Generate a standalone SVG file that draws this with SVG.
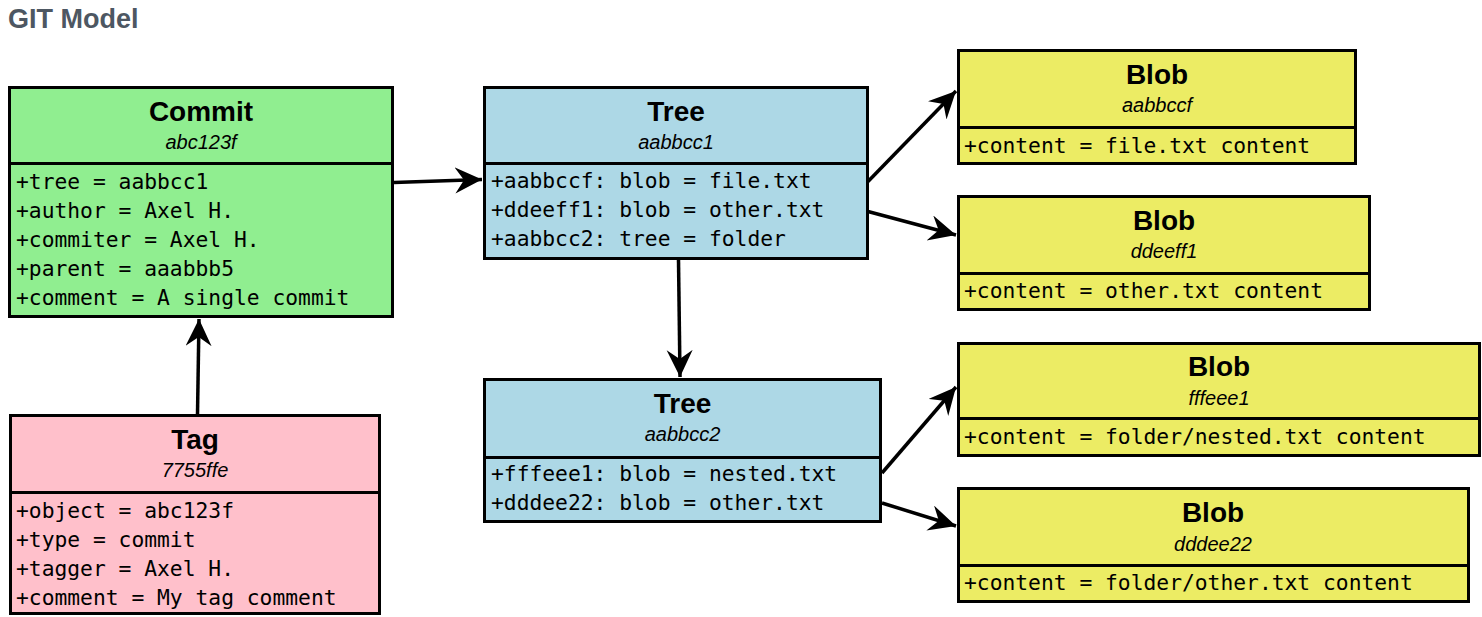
<svg xmlns="http://www.w3.org/2000/svg" width="1482" height="617" viewBox="0 0 1482 617">
<style>
.box{stroke:#000;stroke-width:3}
.sep{stroke:#000;stroke-width:3}
.t{font-family:"Liberation Sans",Arial,sans-serif;font-weight:bold;font-size:28px;text-anchor:middle;fill:#000}
.s{font-family:"Liberation Sans",Arial,sans-serif;font-style:italic;font-size:20px;text-anchor:middle;fill:#000}
.a{font-family:"DejaVu Sans Mono",monospace;font-size:21.3px;fill:#000}
.c{stroke:#000;stroke-width:3.5;fill:none;marker-end:url(#arr)}
.green{fill:#90EE90}.pink{fill:#FFC0CB}.blue{fill:#ADD8E6}.yellow{fill:#ECEC64}
</style>
<defs>
<marker id="arr" markerUnits="userSpaceOnUse" markerWidth="30" markerHeight="30" refX="27" refY="13" orient="auto">
<path d="M0,0 L27,13 L0,26 L9,13 Z" fill="#000"/>
</marker>
</defs>
<rect width="1482" height="617" fill="#fff"/>
<text x="8" y="28" font-family="Liberation Sans,Arial,sans-serif" font-weight="bold" font-size="27" fill="#4d5762">GIT Model</text>

<g id="connectors">
<line class="c" x1="394" y1="182.5" x2="482" y2="179.5"/>
<line class="c" x1="678.5" y1="260" x2="680" y2="377"/>
<line class="c" x1="868" y1="181.5" x2="956" y2="91"/>
<line class="c" x1="868" y1="211.5" x2="956" y2="235"/>
<line class="c" x1="882" y1="473" x2="956" y2="387"/>
<line class="c" x1="882" y1="503" x2="956" y2="526"/>
<line class="c" x1="197.5" y1="414" x2="199" y2="319"/>
</g>

<g id="commit">
<rect class="box green" x="9.5" y="87.5" width="383" height="229"/>
<line class="sep" x1="9.5" y1="163.5" x2="392.5" y2="163.5"/>
<text class="t" x="201" y="121">Commit</text>
<text class="s" x="201" y="149">abc123f</text>
<text class="a" x="16" y="189">+tree = aabbcc1</text>
<text class="a" x="16" y="218">+author = Axel H.</text>
<text class="a" x="16" y="247">+commiter = Axel H.</text>
<text class="a" x="16" y="276">+parent = aaabbb5</text>
<text class="a" x="16" y="305">+comment = A single commit</text>
</g>

<g id="tag">
<rect class="box pink" x="10.5" y="415.5" width="369" height="198"/>
<line class="sep" x1="10.5" y1="492.5" x2="379.5" y2="492.5"/>
<text class="t" x="195" y="449">Tag</text>
<text class="s" x="195" y="477">7755ffe</text>
<text class="a" x="16" y="518">+object = abc123f</text>
<text class="a" x="16" y="547">+type = commit</text>
<text class="a" x="16" y="576">+tagger = Axel H.</text>
<text class="a" x="16" y="605">+comment = My tag comment</text>
</g>

<g id="tree1">
<rect class="box blue" x="484.5" y="87.5" width="383" height="171"/>
<line class="sep" x1="484.5" y1="163.5" x2="867.5" y2="163.5"/>
<text class="t" x="676" y="121">Tree</text>
<text class="s" x="676" y="149">aabbcc1</text>
<text class="a" x="491" y="188">+aabbccf: blob = file.txt</text>
<text class="a" x="491" y="217">+ddeeff1: blob = other.txt</text>
<text class="a" x="491" y="246">+aabbcc2: tree = folder</text>
</g>

<g id="tree2">
<rect class="box blue" x="484.5" y="379.5" width="396" height="142"/>
<line class="sep" x1="484.5" y1="457.5" x2="880.5" y2="457.5"/>
<text class="t" x="682.5" y="413">Tree</text>
<text class="s" x="682.5" y="441">aabbcc2</text>
<text class="a" x="491" y="481">+fffeee1: blob = nested.txt</text>
<text class="a" x="491" y="510">+dddee22: blob = other.txt</text>
</g>

<g id="blob1">
<rect class="box yellow" x="958.5" y="50.5" width="397" height="113"/>
<line class="sep" x1="958.5" y1="127.5" x2="1355.5" y2="127.5"/>
<text class="t" x="1157" y="84">Blob</text>
<text class="s" x="1157" y="112">aabbccf</text>
<text class="a" x="964" y="153">+content = file.txt content</text>
</g>

<g id="blob2">
<rect class="box yellow" x="958.5" y="196.5" width="411" height="113"/>
<line class="sep" x1="958.5" y1="273.5" x2="1369.5" y2="273.5"/>
<text class="t" x="1164" y="230">Blob</text>
<text class="s" x="1164" y="258">ddeeff1</text>
<text class="a" x="964" y="298">+content = other.txt content</text>
</g>

<g id="blob3">
<rect class="box yellow" x="958.5" y="343.5" width="521" height="112"/>
<line class="sep" x1="958.5" y1="418.5" x2="1479.5" y2="418.5"/>
<text class="t" x="1219" y="376">Blob</text>
<text class="s" x="1219" y="405">fffeee1</text>
<text class="a" x="964" y="444">+content = folder/nested.txt content</text>
</g>

<g id="blob4">
<rect class="box yellow" x="958.5" y="488.5" width="510" height="113"/>
<line class="sep" x1="958.5" y1="565.5" x2="1468.5" y2="565.5"/>
<text class="t" x="1213" y="522">Blob</text>
<text class="s" x="1213" y="551">dddee22</text>
<text class="a" x="964" y="590">+content = folder/other.txt content</text>
</g>
</svg>
